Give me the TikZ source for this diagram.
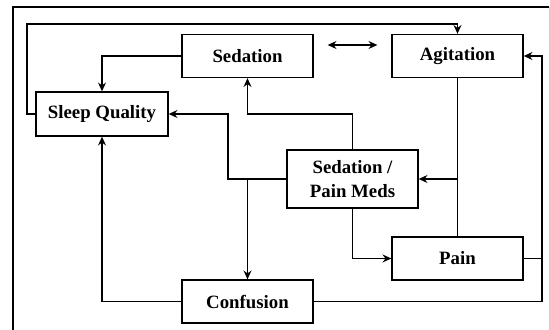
\documentclass[tikz,border=0pt]{standalone}
\usepackage{fontspec}
\setmainfont{Liberation Serif}
\usepackage{tikz}
\usetikzlibrary{arrows.meta,positioning}

\begin{document}
\begin{tikzpicture}[x=0.02cm, y=-0.02cm, >={Stealth[length=5pt,width=4.5pt]}, line width=0.75pt,
  every node/.style={align=center, font=\fontsize{10.7}{14}\selectfont\bfseries},
  box/.style={draw, fill=white, minimum width=2.62cm, minimum height=0.86cm, inner sep=2pt}]
  \useasboundingbox (0,0) rectangle (550,330);
  \draw (13,330) -- (13,7) -- (549,7);
  \draw[gray!40, line width=0.5pt] (549,7) -- (549,330);
  \node[box] (sed) at (247.5,56) {Sedation};
  \node[box] (agit) at (457.5,56) {Agitation};
  \node[box, minimum width=2.64cm, minimum height=0.88cm] (sleep) at (102,114) {Sleep Quality};
  \node[box, minimum height=1.16cm] (meds) at (352.5,179) {Sedation /\\Pain Meds};
  \node[box] (pain) at (457.5,258.5) {Pain};
  \node[box] (conf) at (247.5,301.5) {Confusion};
  \coordinate (loop) at (27,24);
  \coordinate (sedturn) at (300,114);
  \coordinate (sleepturn) at (228,114);
  \coordinate (rail) at (542,258.5);
  \draw[->] (sleep.west) -| (loop) -| (agit.north);
  \draw[->] (sed.west) -| (sleep.north);
  \draw[<->, shorten <=0.28cm, shorten >=0.28cm] ([yshift=0.22cm]sed.east) -- ([yshift=0.22cm]agit.west);
  \draw[->] (meds.north) |- (sedturn) -| (sed.south);
  \draw[->] (meds.west) -| (sleepturn) -- (sleep.east);
  \draw[->] (meds.west -| conf.north) -- (conf.north);
  \draw[->] (conf.west) -| (sleep.south);
  \draw (agit.south) -- (pain.north);
  \draw[->] (agit.south |- meds.east) -- (meds.east);
  \draw[->] (meds.south) |- (pain.west);
  \draw (pain.east) -- (rail);
  \draw[->] (conf.east) -| (rail) |- (agit.east);
\end{tikzpicture}
\end{document}
